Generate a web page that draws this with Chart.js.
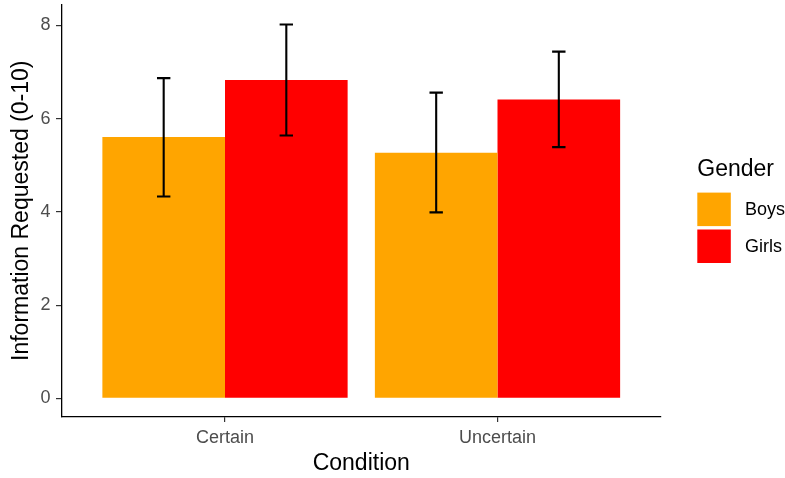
<!DOCTYPE html>
<html>
<head>
<meta charset="utf-8">
<script src="https://cdn.jsdelivr.net/npm/chart.js@4/dist/chart.umd.min.js"></script>
<style>
  html, body { margin: 0; padding: 0; background: #ffffff; }
  #wrap { width: 785px; height: 478px; }
  canvas { display: block; }
</style>
</head>
<body>
<div id="wrap"><canvas id="c" width="785" height="478"></canvas></div>
<script>
// ---- data ----
const categories = ['Certain', 'Uncertain'];
const seriesNames = ['Boys', 'Girls'];
const boysMeans = [5.61, 5.27];
const girlsMeans = [6.83, 6.41];
const boysLow = [4.33, 3.99];
const boysHigh = [6.87, 6.56];
const girlsLow = [5.64, 5.39];
const girlsHigh = [8.02, 7.44];
const yTickValues = [0, 2, 4, 6, 8];
const xTitle = 'Condition';
const yTitle = 'Information Requested (0-10)';
const legendTitle = 'Gender';

// ---- styles ----
const seriesColors = ['#FFA500', '#FF0000'];
const FONT = "'Liberation Sans', Arial, sans-serif";
const tickColor = '#4D4D4D';
const tickMarkColor = '#333333';

const toPoints = arr => arr.map((v, i) => ({ x: i, y: v }));

const datasets = [
  { label: seriesNames[0], data: toPoints(boysMeans), errLow: boysLow, errHigh: boysHigh,
    backgroundColor: seriesColors[0] },
  { label: seriesNames[1], data: toPoints(girlsMeans), errLow: girlsLow, errHigh: girlsHigh,
    backgroundColor: seriesColors[1] }
];

const errorBars = {
  id: 'errorBars',
  afterDatasetsDraw(chart) {
    const ctx = chart.ctx;
    const ys = chart.scales.y;
    chart.data.datasets.forEach((ds, di) => {
      const meta = chart.getDatasetMeta(di);
      meta.data.forEach((bar, i) => {
        const x = bar.x;
        const yl = ys.getPixelForValue(ds.errLow[i]);
        const yh = ys.getPixelForValue(ds.errHigh[i]);
        const half = 6.7;
        ctx.save();
        ctx.strokeStyle = '#000000';
        ctx.lineWidth = 2.1;
        ctx.beginPath();
        ctx.moveTo(x, yl); ctx.lineTo(x, yh);
        ctx.moveTo(x - half, yl); ctx.lineTo(x + half, yl);
        ctx.moveTo(x - half, yh); ctx.lineTo(x + half, yh);
        ctx.stroke();
        ctx.restore();
      });
    });
  }
};

const customLegend = {
  id: 'customLegend',
  afterDraw(chart) {
    const ctx = chart.ctx;
    const left = 697.3;
    ctx.save();
    ctx.fillStyle = '#000000';
    ctx.textAlign = 'left';
    ctx.textBaseline = 'middle';
    ctx.font = '23px ' + FONT;
    ctx.fillText(legendTitle, left, 170);
    chart.data.datasets.forEach((ds, i) => {
      const top = 192.6 + i * 36.9;
      const size = 33.5;
      ctx.fillStyle = ds.backgroundColor;
      ctx.fillRect(left, top, size, size);
      ctx.fillStyle = '#000000';
      ctx.font = '18px ' + FONT;
      ctx.fillText(ds.label, 745, top + size / 2 + 1);
    });
    ctx.restore();
  }
};

new Chart(document.getElementById('c'), {
  type: 'bar',
  data: { datasets },
  plugins: [errorBars, customLegend],
  options: {
    responsive: false,
    animation: false,
    devicePixelRatio: 1,
    layout: { padding: { top: 5, right: 124, bottom: 0, left: 0 } },
    datasets: { bar: { categoryPercentage: 0.9, barPercentage: 1.0, borderWidth: 0 } },
    plugins: { legend: { display: false }, tooltip: { enabled: false } },
    scales: {
      x: {
        type: 'linear',
        min: -0.6,
        max: 1.6,
        bounds: 'data',
        offset: false,
        afterBuildTicks: s => { s.ticks = categories.map((c, i) => ({ value: i })); },
        afterFit: s => { s.height = 61.5; s.paddingLeft = 0; s.paddingRight = 0; },
        border: { display: true, color: '#000000', width: 1.3 },
        grid: { offset: false, drawOnChartArea: false, drawTicks: true, tickLength: 5.5, color: tickMarkColor, lineWidth: 1.2 },
        ticks: {
          color: tickColor, font: { family: FONT, size: 18 }, padding: 5,
          maxRotation: 0, autoSkip: false,
          callback: v => categories[Math.round(v)]
        },
        title: { display: true, text: xTitle, color: '#000000',
          font: { family: FONT, size: 23 }, padding: { top: 0, bottom: 1 } }
      },
      y: {
        type: 'linear',
        min: -0.39,
        max: 8.44,
        afterBuildTicks: s => { s.ticks = yTickValues.map(v => ({ value: v })); },
        afterFit: s => { s.width = 61.5; s.paddingTop = 0; s.paddingBottom = 0; },
        border: { display: true, color: '#000000', width: 1.3 },
        grid: { drawOnChartArea: false, drawTicks: true, tickLength: 5.5, color: tickMarkColor, lineWidth: 1.2 },
        ticks: { color: tickColor, font: { family: FONT, size: 18 }, padding: 5.5,
          callback: v => String(v) },
        title: { display: true, text: yTitle, color: '#000000',
          font: { family: FONT, size: 23 }, padding: { top: 8.2, bottom: 0 } }
      }
    }
  }
});
</script>
</body>
</html>
